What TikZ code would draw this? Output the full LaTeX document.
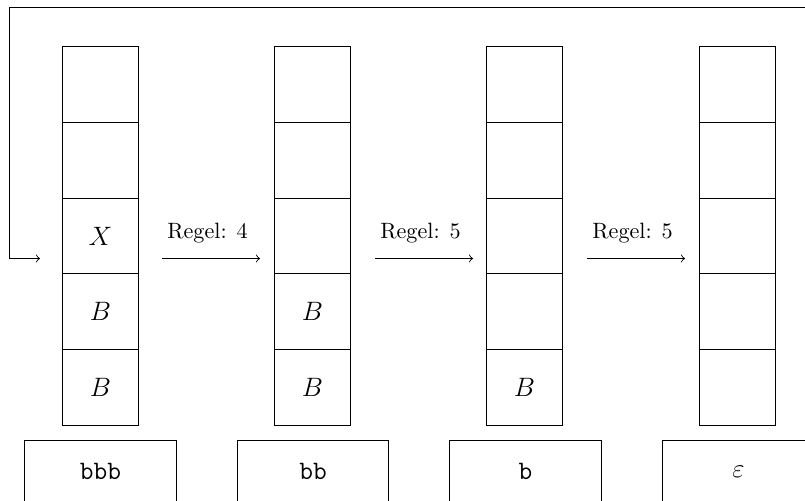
\documentclass[tikz,border=0pt]{standalone}
\newlength\pu
\setlength\pu{0.01585cm}
\begin{document}
\begin{tikzpicture}[x=\pu,y=-\pu,
  cell/.style={draw,minimum width=75.7\pu,minimum height=75.7\pu,inner sep=0pt,font=\large},
  tape/.style={draw,minimum width=151.5\pu,minimum height=62\pu,inner sep=0pt,anchor=north,font=\large},
  rule/.style={->},
  lbl/.style={above=3.4pt,xshift=-3.5\pu}]
\useasboundingbox (0,0) rectangle (805,500);
% stacks
\foreach \c/\x in {1/100.5,2/312.5,3/524.5,4/737.5}{
  \foreach \r/\y in {1/84.5,2/160.2,3/236,4/311.7,5/387.5}{
    \node[cell] (c\c\r) at (\x,\y) {};
  }
}
\node at (c13) {\large $X$};
\node at (c14) {\large $B$};
\node at (c15) {\large $B$};
\node at (c24) {\large $B$};
\node at (c25) {\large $B$};
\node at (c35) {\large $B$};
% tapes
\node[tape] (t1) at (100.5,440) {\texttt{bbb}};
\node[tape] (t2) at (313,440) {\texttt{bb}};
\node[tape] (t3) at (525.5,440) {\texttt{b}};
\node[tape] (t4) at (738.5,440) {$\varepsilon$};
% arrows
\coordinate (a1s) at (162,258.5);
\coordinate (a1e) at (260,258.5);
\coordinate (a2s) at (375,258.5);
\coordinate (a2e) at (473,258.5);
\coordinate (a3s) at (587,258.5);
\coordinate (a3e) at (685,258.5);
\draw[rule] (a1s) -- node[lbl]{Regel: 4} (a1e);
\draw[rule] (a2s) -- node[lbl]{Regel: 5} (a2e);
\draw[rule] (a3s) -- node[lbl]{Regel: 5} (a3e);
% loop back
\coordinate (l0) at (815,7);
\coordinate (l1) at (9,7);
\coordinate (l2) at (9,258.5);
\coordinate (l3) at (40,258.5);
\draw[rule] (l0) -- (l1) -- (l2) -- (l3);
\end{tikzpicture}
\end{document}
